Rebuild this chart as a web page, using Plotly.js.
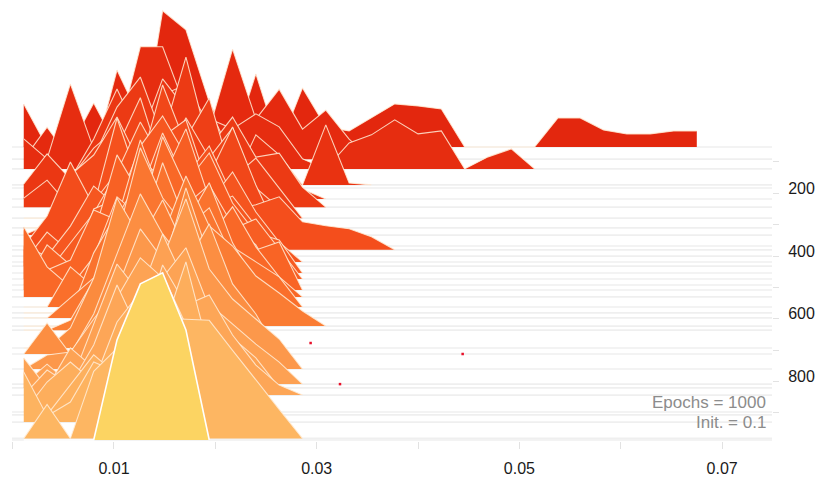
<!DOCTYPE html>
<html>
<head>
<meta charset="utf-8">
<script src="https://cdn.plot.ly/plotly-3.0.1.min.js"></script>
<style>html,body{margin:0;padding:0;background:#fff;}#chart{width:819px;height:478px;}</style>
</head>
<body>
<div id="chart"></div>
<script>
// Histogram bin centres (weight value)
const binCenters = [0.0011,0.0034,0.0057,0.0080,0.0103,0.0126,0.0148,0.0171,0.0194,0.0217,
                    0.0240,0.0263,0.0286,0.0309,0.0332,0.0354,0.0377,0.0400,0.0423,0.0446,
                    0.0469,0.0492,0.0515,0.0538,0.0560,0.0583,0.0606,0.0629,0.0652,0.0675];

// Epoch of each histogram (ridge baseline)
const ridgeEpochs = [52,91,122,173,183,218,244,279,310,333,368,380,400,419,432,454,473,492,508,530,
                     562,581,597,623,636,693,712,760,808,820,843,897,906,929,981,986];

// Histogram heights for each epoch (one list per ridge, bins from the left)
const densities = [
  [43,0,0,44,0,0,136,117,45,0,73,0,59,20,16,29,43,41,38,0,0,0,0,29,29,17,13,13,16,16],
  [0,32,0,0,89,40,20,0,30,110,40,70,30,49,20,0],
  [30,10,85,20,30,122,122,60,50,40,55,42,10,0,26,34,49,35,38,0,12,20,0],
  [0,0,0,40,60,20,90,100,60,0,50,30,0,60,2,0],
  [0,33,0,30,70,100,60,40,80,30,0,0,0],
  [15,45,20,60,110,60,120,90,50,70,30,0,10,0],
  [9,27,0,50,100,130,70,150,60,90,50,54,20,0],
  [0,0,40,70,90,60,100,80,120,40,60,30,0],
  [0,0,20,40,80,130,60,110,70,100,40,20,0],
  [0,10,60,80,118,70,150,90,60,108,50,0],
  [0,30,84,40,60,114,90,100,70,50,30,10,0],
  [0,0,0,30,80,60,113,130,60,40,45,53,28,24,21,13,0],
  [0,0,20,50,138,70,100,80,110,60,30,0],
  [0,30,10,60,90,140,100,70,60,90,50,20,0],
  [20,10,40,80,60,120,150,110,60,70,40,0],
  [0,0,30,60,100,80,140,90,120,70,40,33,0],
  [30,15,0,70,80,120,100,150,80,50,60,30,0],
  [0,40,20,50,130,90,110,80,100,60,40,0],
  [60,20,30,80,70,150,90,100,70,40,40,48,0],
  [70,30,10,40,100,80,160,110,60,90,50,20,0],
  [0,0,40,20,90,130,70,120,80,60,45,30,0],
  [0,0,0,60,100,80,150,90,130,70,30,0],
  [0,0,20,40,80,170,120,90,110,60,40,0],
  [0,0,0,30,70,110,90,150,100,80,50,33,15,0],
  [0,0,10,50,120,90,130,80,60,30,0],
  [0,0,20,70,150,110,80,160,90,60,30,0],
  [0,31,0,40,100,160,120,90,130,70,40,0],
  [0,14,17,50,80,140,110,170,100,70,50,30,0],
  [0,20,0,60,120,90,150,100,80,60,40,22,0],
  [30,0,40,20,90,130,110,140,80,50,30,0],
  [0,25,10,50,110,60,130,90,100,60,30,10,0],
  [0,30,50,30,90,120,80,150,60,40,20,0],
  [0,0,30,60,40,110,140,90,70,50,30,0],
  [50,6,20,60,50,90,120,80,60,40,20,0],
  [0,34,0,67,90,110,120,119,118,88,58,29,0],
  [0,0,0,0,100,156,167,110,0]
];

// Stray points
const dotX = [0.0294,0.0444,0.0323,0.0760];
const dotEpoch = [677,712,808,1000];

// Axis ticks
const xTickVals = [0,0.01,0.02,0.03,0.04,0.05,0.06,0.07];
const xTickText = ['','0.01','','0.03','','0.05','','0.07'];
const yTickVals = [100,200,300,400,500,600,700,800,900];
const yTickText = ['','200','','400','','600','','800',''];

// ---- styling helpers ----
const heightScale = 3.19; // epochs per density unit
const rampStops = [
  [0.00,[224,34,13]],[0.20,[234,52,18]],[0.38,[244,78,28]],[0.52,[249,102,38]],
  [0.66,[251,132,56]],[0.80,[253,160,82]],[0.95,[253,182,98]]
];
function rampColor(f){
  if (f<=rampStops[0][0]) return rampStops[0][1];
  for (let i=1;i<rampStops.length;i++){
    if (f<=rampStops[i][0]){
      const a=rampStops[i-1], b=rampStops[i];
      const t=(f-a[0])/(b[0]-a[0]);
      return a[1].map((c,j)=>Math.round(c+(b[1][j]-c)*t));
    }
  }
  return rampStops[rampStops.length-1][1];
}

const traces = [];
const shapes = [];
const last = ridgeEpochs.length-1;
ridgeEpochs.forEach((ep,i)=>{
  shapes.push({type:'line',xref:'paper',x0:0,x1:1,yref:'y',y0:ep,y1:ep,layer:'below',
               line:{color:'#EFEFEF',width:1.6}});
});
ridgeEpochs.forEach((ep,i)=>{
  const vals = densities[i];
  const xs = binCenters.slice(0, vals.length);
  const ys = vals.map(v => ep - v*heightScale);
  const c = (i===last) ? [252,212,98] : rampColor(ep/1000);
  const fill = `rgb(${c[0]},${c[1]},${c[2]})`;
  traces.push({
    type:'scatter', mode:'lines', hoverinfo:'skip', showlegend:false,
    x: xs.concat([xs[xs.length-1], xs[0]]),
    y: ys.concat([ep, ep]),
    fill:'toself', fillcolor: fill, line:{width:0}
  });
  traces.push({
    type:'scatter', mode:'lines', hoverinfo:'skip', showlegend:false,
    x: xs, y: ys,
    line:{color: (i===last)?'rgba(255,255,255,1)':'rgba(255,236,215,0.85)', width:(i===last)?1.6:1.1}
  });
});
traces.push({
  type:'scatter', mode:'markers', x: dotX, y: dotEpoch, hoverinfo:'skip', showlegend:false,
  cliponaxis:false, marker:{color:'#E8102A', size:2.5, symbol:'square'}
});

const layout = {
  width:819, height:478,
  margin:{l:12, r:47, t:0, b:37},
  paper_bgcolor:'#fff', plot_bgcolor:'#fff',
  font:{family:'"Liberation Sans", Arial, sans-serif', size:16, color:'#1a1a1a'},
  xaxis:{range:[-0.00006,0.07492], tickmode:'array', tickvals:xTickVals, ticktext:xTickText,
         ticks:'outside', ticklen:7, tickcolor:'#E2E2E2', tickwidth:1,
         showgrid:false, zeroline:false, showline:false, ticklabelstandoff:6,
         tickfont:{size:16,color:'#1a1a1a'}},
  yaxis:{range:[989.3,-416.3], side:'right', tickmode:'array', tickvals:yTickVals, ticktext:yTickText,
         ticks:'outside', ticklen:6, tickcolor:'#E2E2E2', tickwidth:1,
         showgrid:false, zeroline:false, showline:false, ticklabelstandoff:6, ticklabelshift:5,
         tickfont:{size:16,color:'#1a1a1a'}},
  shapes: shapes,
  annotations:[
    {xref:'paper',yref:'paper',x:0.9947,y:0.088,xanchor:'right',yanchor:'middle',showarrow:false,
     text:'Epochs = 1000', font:{size:17,color:'#8C8C8C'}},
    {xref:'paper',yref:'paper',x:0.9947,y:0.042,xanchor:'right',yanchor:'middle',showarrow:false,
     text:'Init. = 0.1', font:{size:17,color:'#8C8C8C'}}
  ]
};
Plotly.newPlot('chart', traces, layout, {staticPlot:true, displayModeBar:false});
</script>
</body>
</html>
